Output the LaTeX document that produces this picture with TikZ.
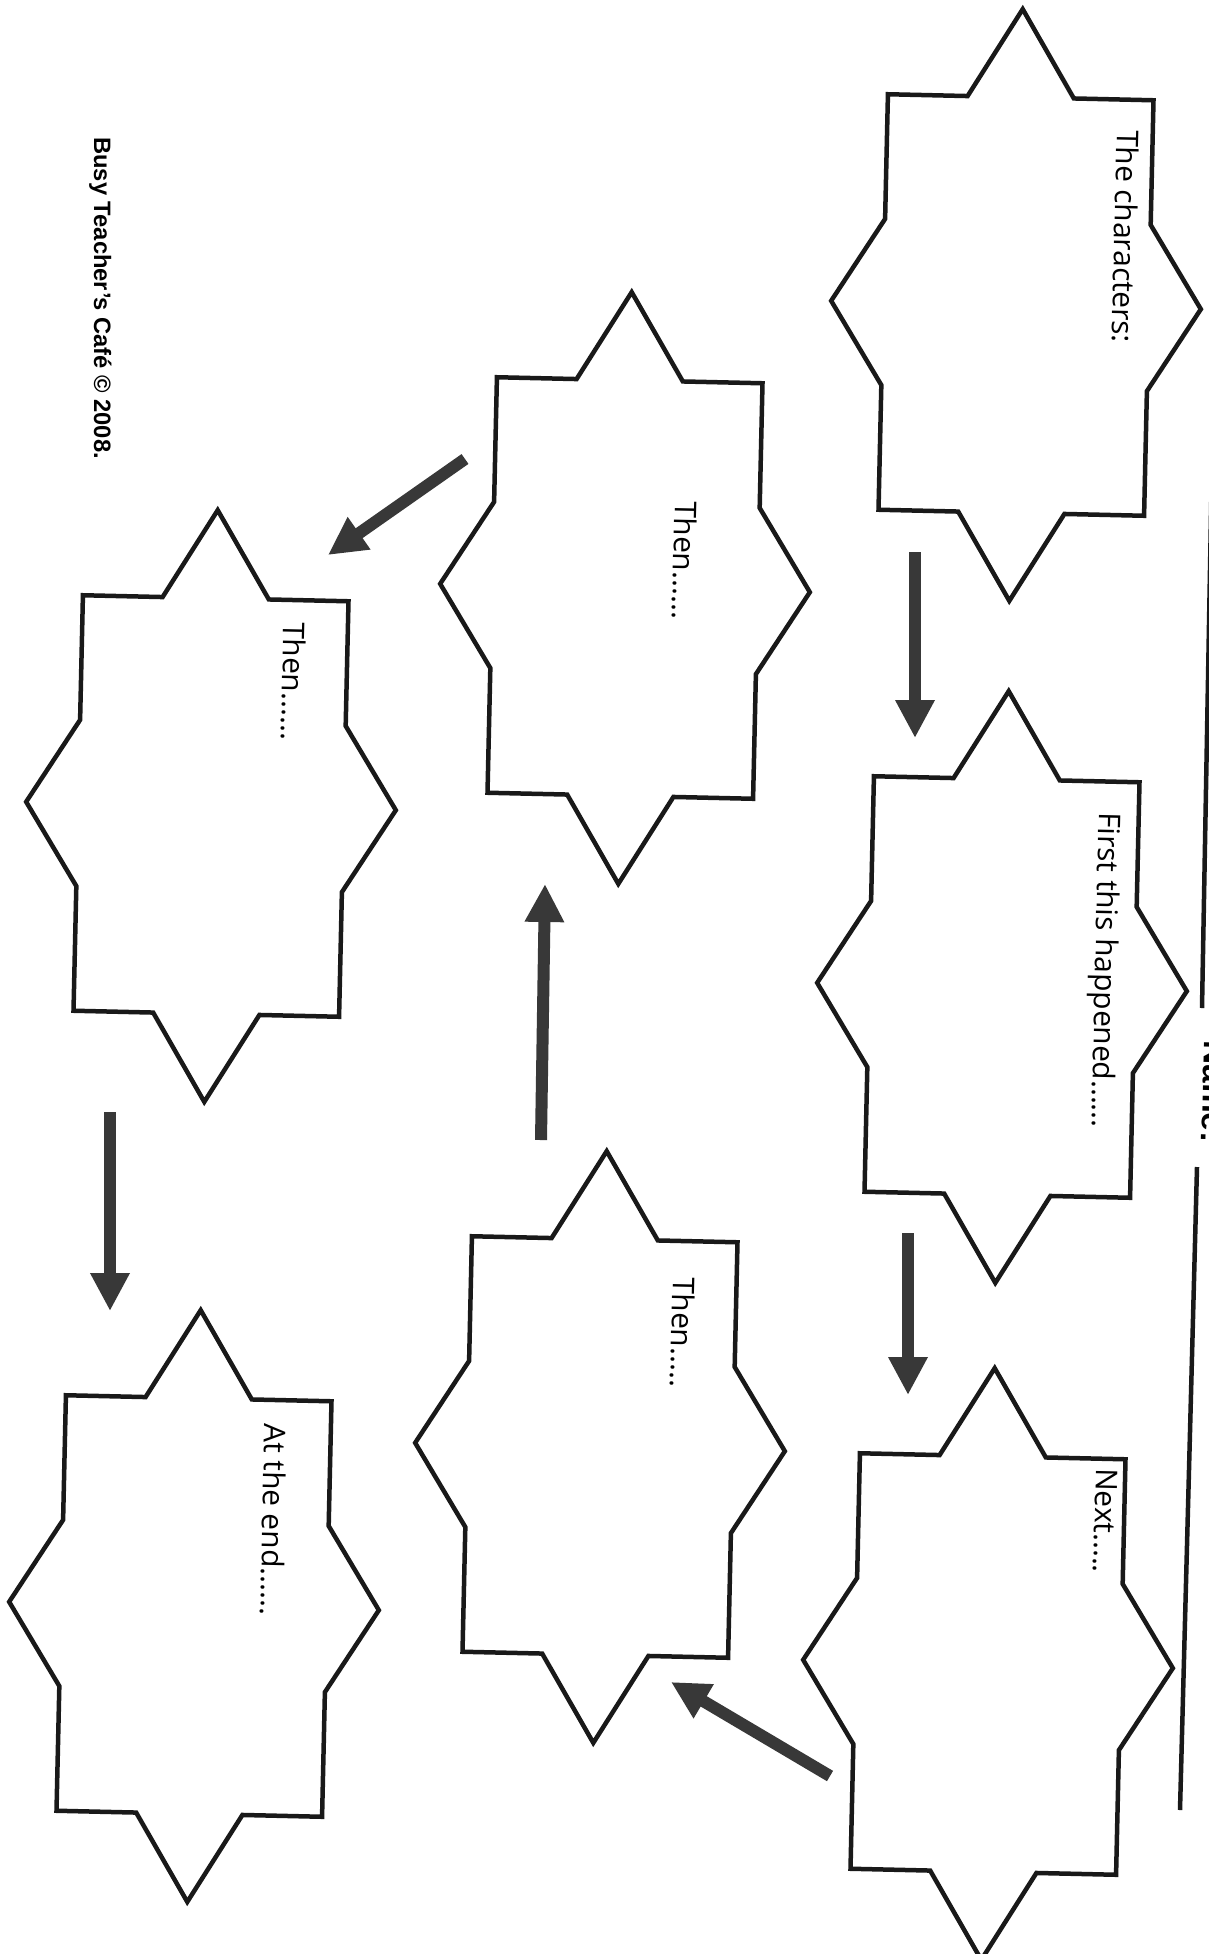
\documentclass[tikz,border=0pt]{standalone}
\usepackage{fontspec}
\setmainfont{Open Sans}
\setsansfont{Liberation Sans}
\usetikzlibrary{arrows.meta,calc,positioning}

% outline of one story burst: a box with a spike on every side
\newcommand{\burstoutline}[1]{%
  \draw[burstline]
    (#1.north west) -- ($(#1.north west)!0.3!(#1.north east)$)
    -- ($(#1.north)!-0.212!(#1.south)$)
    -- ($(#1.north west)!0.7!(#1.north east)$)
    -- (#1.north east)
    -- ($(#1.north east)!0.3!(#1.south east)$)
    -- ($(#1.east)!-0.196!(#1.west)$)
    -- ($(#1.north east)!0.7!(#1.south east)$)
    -- (#1.south east)
    -- ($(#1.south west)!0.7!(#1.south east)$)
    -- ($(#1.south)!-0.212!(#1.north)$)
    -- ($(#1.south west)!0.3!(#1.south east)$)
    -- (#1.south west)
    -- ($(#1.north west)!0.7!(#1.south west)$)
    -- ($(#1.west)!-0.196!(#1.east)$)
    -- ($(#1.north west)!0.3!(#1.south west)$)
    -- cycle;}

\begin{document}
\begin{tikzpicture}[
  x=0.02cm, y=-0.02cm,
  burst/.style={rectangle, minimum width=5.3cm, minimum height=8.3cm,
                inner sep=0pt, rotate=-1.3},
  burstline/.style={draw=black!90, line width=0.09cm, line join=miter},
  lbl/.style={rotate=-91.3, anchor=base west, inner sep=0pt,
              font=\fontsize{17}{20}\selectfont},
  arr/.style={-{Triangle[length=0.76cm,width=0.74cm]}, line width=0.24cm,
              draw=black!78},
  rule/.style={line width=0.09cm, black!90},
]

\useasboundingbox (0,0) rectangle (1209,1954);
\fill[white] (0,0) rectangle (1209,1954);

% the bursts
\node[burst] (chars) at (1016,305) {};
\node[burst] (first) at (1002,987) {};
\node[burst] (next)  at (988,1664) {};
\node[burst] (then1) at (600,1447) {};
\node[burst] (then2) at (625,588) {};
\node[burst] (then3) at (211,806) {};
\node[burst] (atend) at (194,1606) {};

\foreach \s in {chars,first,next,then1,then2,then3,atend}
  {\burstoutline{\s}}

% prompts
\node[lbl] (charsT) at (1117,130)  {The characters:};
\node[lbl] (firstT) at (1099,812)  {First this happened......};
\node[lbl] (nextT)  at (1096,1468) {Next.....};
\node[lbl] (then1T) at (673,1277)  {Then.....};
\node[lbl] (then2T) at (675,501)   {Then......};
\node[lbl] (then3T) at (284,622)   {Then......};
\node[lbl] (atendT) at (265,1423)  {At the end......};

% arrows between the bursts
\coordinate (a1s) at (915,552);  \coordinate (a1e) at (915,738);
\coordinate (a2s) at (908,1233); \coordinate (a2e) at (908,1395);
\coordinate (a3s) at (830,1776); \coordinate (a3e) at (671,1682);
\coordinate (a4s) at (541,1140); \coordinate (a4e) at (545,884);
\coordinate (a5s) at (465,459);  \coordinate (a5e) at (328,555);
\coordinate (a6s) at (110,1112); \coordinate (a6e) at (110,1311);

\draw[arr] (a1s) -- (a1e);
\draw[arr] (a2s) -- (a2e);
\draw[arr] (a3s) -- (a3e);
\draw[arr] (a4s) -- (a4e);
\draw[arr] (a5s) -- (a5e);
\draw[arr] (a6s) -- (a6e);

% name line along the edge
\coordinate (r1a) at (1212,460);  \coordinate (r1b) at (1202,1008);
\coordinate (r2a) at (1197,1167); \coordinate (r2b) at (1180,1810);
\draw[rule] (r1a) -- (r1b);
\draw[rule] (r2a) -- (r2b);
\node[rotate=-91.3, anchor=base west, inner sep=0pt,
      font=\sffamily\bfseries\fontsize{19}{22}\selectfont] (name)
  at (1204,1040) {Name:};

\node[rotate=-90, anchor=base west, inner sep=0pt,
      font=\sffamily\bfseries\fontsize{13.5}{16}\selectfont] (credit)
  at (94,137) {Busy Teacher’s Café © 2008.};

\end{tikzpicture}
\end{document}
